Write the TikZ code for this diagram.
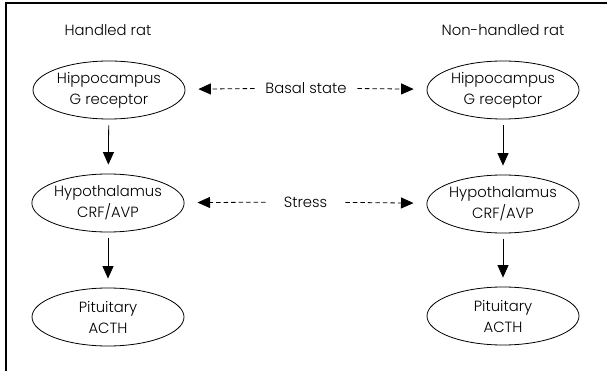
\documentclass[tikz,border=0pt]{standalone}
\usepackage{fontspec}
\setmainfont{Poppins Light}
\usetikzlibrary{shapes.geometric,arrows.meta}

\begin{document}
\begin{tikzpicture}[x=1pt,y=-1pt,line width=0.8pt]
				\tikzstyle{every node}+=[inner sep=0pt,font=\fontsize{14.8}{21}\selectfont,align=center]
				\tikzstyle{organ}=[draw,ellipse,minimum width=152pt,minimum height=58pt]
				\tikzstyle{flow}=[-{Triangle[length=12.5pt,width=11pt]},shorten <=6pt,shorten >=9pt]
				\tikzstyle{cue}=[-{Triangle[length=12.5pt,width=11pt]},dash pattern=on 4.5pt off 3pt,shorten >=13pt]
				\useasboundingbox (0,0) rectangle (607,371);
				\draw [line width=1.2pt] (6,371) -- (6,3) -- (607,3);
				\node (ttlL) at (108,30) {Handled rat};
				\node (ttlR) at (503,30) {Non-handled rat};
				\node [organ] (hipL) at (109,90) {Hippocampus\\G receptor};
				\node [organ] (hypL) at (108,203) {Hypothalamus\\CRF/AVP};
				\node [organ] (pitL) at (108,317) {Pituitary\\ACTH};
				\node [organ] (hipR) at (503,90) {Hippocampus\\G receptor};
				\node [organ] (hypR) at (503,204) {Hypothalamus\\CRF/AVP};
				\node [organ] (pitR) at (503,316) {Pituitary\\ACTH};
				\node [minimum width=102pt] (basal) at (306,88) {Basal state};
				\node [minimum width=79pt] (stress) at (305.5,202) {Stress};
				\draw [flow] (hipL) -- (hypL);
				\draw [flow] (hypL) -- (pitL);
				\draw [flow] (hipR) -- (hypR);
				\draw [flow] (hypR) -- (pitR);
				\draw [cue] (basal) -- (hipL);
				\draw [cue] (basal) -- (hipR);
				\draw [cue] (stress) -- (hypL);
				\draw [cue] (stress) -- (hypR);
\end{tikzpicture}
\end{document}
